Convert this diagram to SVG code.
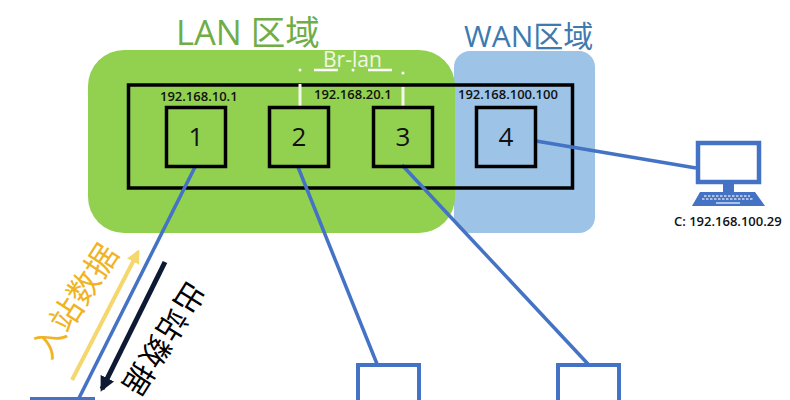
<svg xmlns="http://www.w3.org/2000/svg" width="790" height="400" viewBox="0 0 790 400">
<defs>
<style>
.c{font-family:"Open Sans","Noto Sans CJK SC",sans-serif}
.ip{font-family:"Open Sans","Liberation Sans",sans-serif;font-size:13px;font-weight:600;fill:#111}
.box{fill:none;stroke:#000;stroke-width:3.5}
.num{font-family:"Open Sans","Liberation Sans",sans-serif;font-size:26px;fill:#111;text-anchor:middle}
.wire{stroke:#4472c4;stroke-width:3.5;fill:none}
.bl{fill:none;stroke:#4472c4;stroke-width:4}
</style>
<marker id="ay" viewBox="0 0 10 10" refX="8" refY="5" markerWidth="3.4" markerHeight="3.4" orient="auto"><path d="M0 0L10 5L0 10z" fill="#f5d76e"/></marker>
<marker id="ad" viewBox="0 0 10 10" refX="8" refY="5" markerWidth="3" markerHeight="3" orient="auto"><path d="M0 0L10 5L0 10z" fill="#0e1a33"/></marker>
</defs>
<rect width="790" height="400" fill="#fff"/>
<g id="wan-zone"><rect x="454" y="51" width="141" height="182" rx="16" fill="#9dc3e6"/>
<text x="464" y="47" class="c" font-size="30" fill="#3d7ab0">WAN区域</text></g>
<g id="lan-zone"><rect x="88" y="50" width="367" height="183" rx="36" fill="#92d050"/>
<text x="176" y="45" class="c" font-size="34.500" fill="#70ad47">LAN 区域</text></g>
<g id="bridge">
<rect x="128.500" y="85" width="444" height="103" class="box"/>
<text x="323" y="67" class="c" font-size="21" fill="#f2f7e6">Br-lan</text>
<path d="M314 70H338M368 70H392" stroke="#fff" stroke-width="2.500"/>
<path d="M300 84V108M403 87V108" stroke="#f4f8ea" stroke-width="3"/>
<circle cx="300" cy="70" r="1.500" fill="#fff"/><circle cx="353" cy="70" r="1.500" fill="#fff"/><circle cx="403" cy="73" r="1.500" fill="#fff"/>
<text x="160" y="101" class="ip">192.168.10.1</text>
<text x="314" y="99" class="ip">192.168.20.1</text>
<text x="458" y="99" class="ip">192.168.100.100</text>
</g>
<g id="connectors">
<path class="wire" d="M195 167L78 400"/>
<path class="wire" d="M298 167L377 364"/>
<path class="wire" d="M402 165L588 364"/>
<path class="wire" d="M536 141L696 168"/>
<path d="M72 380L138 252" stroke="#f5d76e" stroke-width="4" fill="none" marker-end="url(#ay)"/>
<path d="M165 262L102 389" stroke="#0e1a33" stroke-width="5" fill="none" marker-end="url(#ad)"/>
</g>
<g id="node-1"><rect x="166.500" y="107.500" width="59" height="59" class="box"/><text x="196" y="146" class="num">1</text></g>
<g id="node-2"><rect x="269.500" y="107.500" width="59" height="59" class="box"/><text x="299" y="146" class="num">2</text></g>
<g id="node-3"><rect x="373.500" y="107.500" width="59" height="59" class="box"/><text x="403" y="146" class="num">3</text></g>
<g id="node-4"><rect x="476.500" y="107.500" width="59" height="59" class="box"/><text x="506" y="146" class="num">4</text></g>
<g id="client">
<rect x="698" y="143" width="61" height="39" fill="#fff" stroke="#4472c4" stroke-width="4.500"/>
<rect x="723" y="184" width="11" height="9" fill="#4472c4"/>
<path d="M700 192H755L765 206H692z" fill="#4472c4"/>
<path d="M704 196H750M702 199H753" stroke="#cfdcf2" stroke-width="1.500" stroke-dasharray="2.500 1.500"/>
<path d="M716 203H740" stroke="#cfdcf2" stroke-width="1.500"/>
<text x="674" y="226" class="ip">C: 192.168.100.29</text>
</g>
<g id="inbound"><text transform="translate(50 361) rotate(-57)" class="c" font-size="32" fill="#f0b323">入站数据</text></g>
<g id="outbound"><text transform="translate(188 279) rotate(122)" class="c" font-size="30" letter-spacing="2" fill="#000">出站数据</text></g>
<g id="node-5"><path class="bl" d="M30 399H95"/></g>
<g id="node-6"><path class="bl" d="M358 400V365H419V400"/></g>
<g id="node-7"><path class="bl" d="M558 400V365H619V400"/></g>
</svg>
